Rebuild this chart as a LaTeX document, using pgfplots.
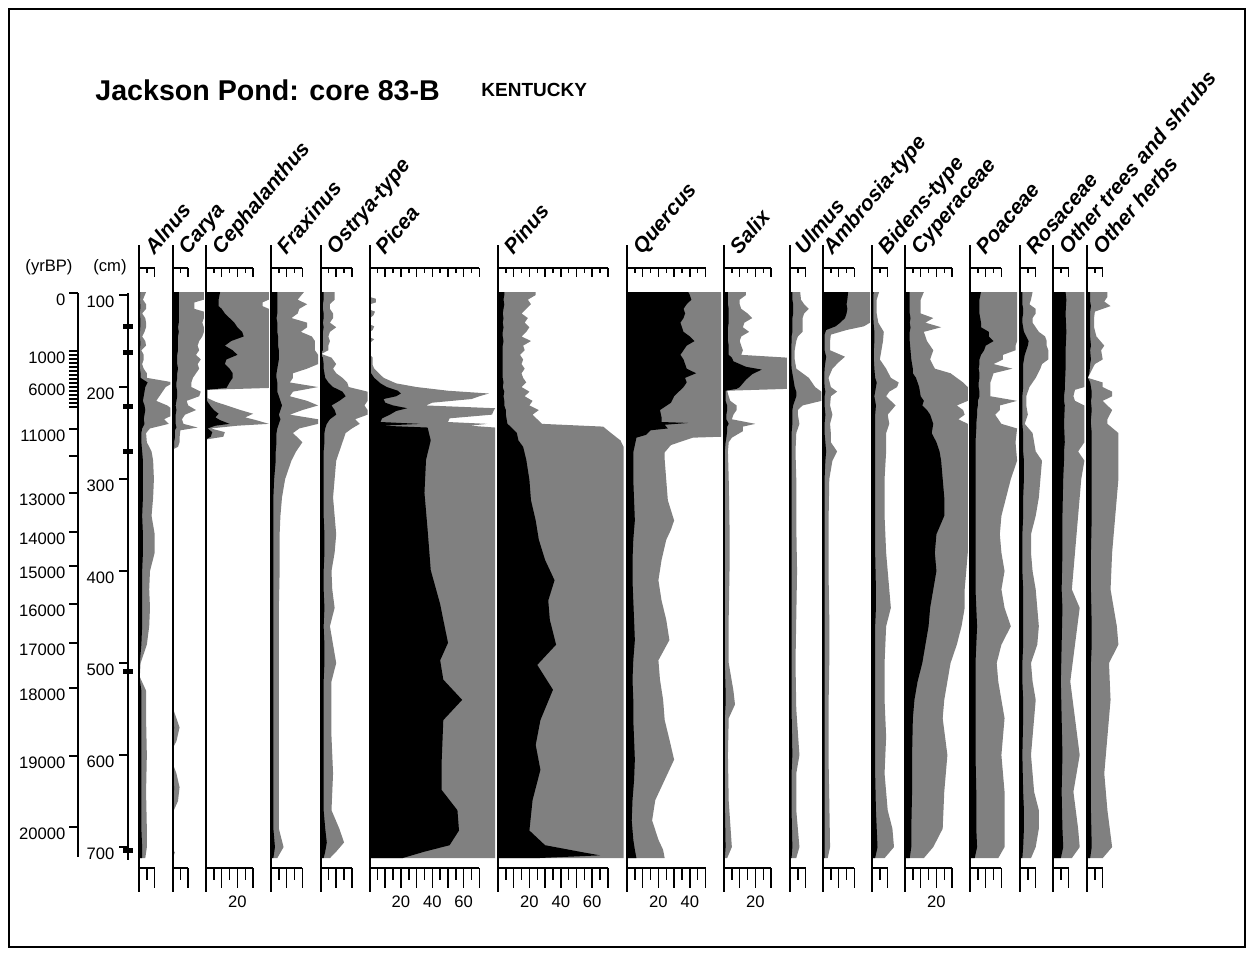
\documentclass[border=0pt]{standalone}
\usepackage{pgfplots}
\pgfplotsset{compat=1.18}
\usepackage{pgfplotstable}
\usepackage{fontspec}
\setmainfont{Liberation Sans}
\definecolor{gr}{RGB}{128,128,128}

% depth (cm), black = percent, g = grey exaggeration (clipped at panel edge)
\pgfplotstableread[row sep=\\]{d b g\\ 96.7 0 0\\ 96.7 0.8 4.5\\ 105 0.6 2.5\\ 110 0.8 4.5\\ 115 0.8 4.5\\ 120 0.5 2\\ 125 0.8 4\\ 130 0.8 4.5\\ 135 0.8 4.5\\ 140 0.6 3.5\\ 145 0.5 2\\ 150 0.8 4\\ 155 0.8 4.5\\ 160 0.5 1.5\\ 165 0.6 3\\ 170 0.6 3\\ 175 0.5 2\\ 180 0.6 3\\ 185 1 5\\ 190 1 5\\ 195 5.5 22\\ 200 4 17\\ 205 3.5 15\\ 210 3 13\\ 215 2.5 11\\ 220 3.5 18\\ 225 4 22\\ 230 3.5 22\\ 235 3 16\\ 240 3.5 19\\ 245 2 7\\ 250 1.5 4.5\\ 260 1.5 5\\ 270 2 8\\ 280 2.5 9\\ 300 2.5 9.5\\ 320 2.5 9\\ 340 2 8\\ 360 2.5 10\\ 380 2.5 10\\ 400 2 7\\ 420 2 6.5\\ 440 2 7\\ 460 2 6.5\\ 480 1.5 5\\ 500 0.5 1\\ 515 0.3 0.5\\ 530 1.5 4.5\\ 560 1.5 4.5\\ 600 1.5 5\\ 640 1.5 4.5\\ 680 1.5 5\\ 700 2 5\\ 712 2 4\\ 712 0 0\\}\tAln
\pgfplotstableread[row sep=\\]{d b g\\ 96.7 0 0\\ 96.7 4 20\\ 105 4 20\\ 108 4 14\\ 115 4 14\\ 118 4 20\\ 125 4 20\\ 130 4 19\\ 135 3.5 20\\ 140 4 20\\ 145 3.5 19\\ 150 3.5 17\\ 155 3.5 16\\ 160 3.5 17\\ 165 3 15\\ 170 3 18\\ 175 3 16\\ 180 3.5 17\\ 185 3 15\\ 190 3 13\\ 195 2.5 12\\ 200 2.5 12\\ 205 3 18\\ 210 3 17\\ 215 2.5 9\\ 220 2 10\\ 225 2.5 15\\ 230 2 8\\ 235 2 6\\ 240 2 7\\ 244 2.5 16\\ 247 1.5 5\\ 255 1.5 4.5\\ 260 1 4.5\\ 265 1 3.5\\ 268 0 0\\ 548 0 0\\ 560 0.5 2.5\\ 570 1 4.5\\ 585 0.5 2.5\\ 592 0 0.3\\ 610 0 0.3\\ 620 0.5 2.5\\ 635 1 4.5\\ 650 0.8 3.5\\ 662 0 0.3\\ 702 0 0\\ 706 0.3 1.5\\ 712 0 0\\}\tCar
\pgfplotstableread[row sep=\\]{d b g\\ 96.7 0 0\\ 96.7 9 40\\ 105 8 40\\ 108 8 36\\ 112 8 36\\ 115 10 40\\ 120 12 40\\ 125 15 40\\ 130 18 40\\ 135 20 40\\ 140 23 40\\ 145 24 40\\ 150 16 40\\ 155 12 40\\ 160 17 40\\ 165 20 40\\ 170 13 40\\ 175 12 40\\ 180 15 40\\ 185 17 40\\ 190 17 40\\ 195 15 40\\ 201 13 40\\ 203 0 1\\ 212 0 1\\ 216 1 6\\ 221 3 15\\ 225 5 22\\ 229 8 30\\ 233 6 25\\ 236 9 32\\ 240 15 40\\ 242 6 20\\ 245 1 3\\ 249 4 12\\ 254 3 11\\ 257 0 0\\ 712 0 0\\}\tCep
\pgfplotstableread[row sep=\\]{d b g\\ 96.7 0 0\\ 96.7 4 21\\ 105 4 17\\ 110 4 23\\ 115 4 18\\ 120 4 17\\ 125 3.5 13\\ 130 4 23\\ 135 4 23\\ 140 4 19\\ 145 4.5 26\\ 150 4.5 28\\ 155 4.5 28\\ 160 5 28\\ 165 5 30\\ 170 5 30\\ 175 4.5 30\\ 180 4 23\\ 185 3.5 14\\ 190 3.5 14\\ 195 4 12\\ 200 4 30\\ 205 4 14\\ 210 5 12\\ 215 6 23\\ 220 7 30\\ 225 6 20\\ 230 5 12\\ 235 6 30\\ 240 5 30\\ 245 4 18\\ 250 3.5 14\\ 260 3.5 20\\ 270 3 16\\ 280 3 13\\ 300 2 9\\ 320 1.5 7\\ 340 1.5 6\\ 360 1.5 5.5\\ 400 1.5 5.5\\ 440 1.5 5\\ 500 1.5 5\\ 560 1.5 5\\ 620 1.5 5\\ 680 1.5 5\\ 700 2.5 8\\ 712 1.5 4\\ 712 0 0\\}\tFra
\pgfplotstableread[row sep=\\]{d b g\\ 96.7 0 0\\ 96.7 2 9\\ 105 2 9\\ 110 1.5 6\\ 115 1.5 6\\ 120 2 8\\ 125 2 8\\ 130 1.5 6\\ 135 2 10\\ 140 1.5 6\\ 145 1.5 5\\ 150 1.5 6\\ 155 1.5 5\\ 160 1.5 5\\ 164 0 0.5\\ 168 1.5 7\\ 175 2 10\\ 180 2 8\\ 185 2.5 10\\ 190 3 14\\ 195 5 17\\ 200 8 18\\ 205 14 30\\ 210 16 30\\ 215 12 30\\ 220 7 28\\ 225 9 30\\ 230 10 30\\ 235 6 22\\ 240 4 25\\ 245 3 20\\ 250 2.5 16\\ 260 2.5 14\\ 270 2 12\\ 280 2 10\\ 300 2 9\\ 320 2 8\\ 340 2 9\\ 360 2.5 10\\ 380 2.5 9\\ 400 2 7\\ 420 2 7.5\\ 440 2.5 9\\ 460 2 6\\ 480 2.5 8\\ 500 2.5 10\\ 520 2 7\\ 540 2 7\\ 580 2 7\\ 620 2 8\\ 660 2 7\\ 680 3 12\\ 695 4 15\\ 705 3 10\\ 712 2 6\\ 712 0 0\\}\tOst
\pgfplotstableread[row sep=\\]{d b g\\ 96.7 0 0\\ 102 0 0\\ 104 0.5 4\\ 108 0.5 4\\ 110 0 0.3\\ 116 0 0.3\\ 118 0.5 3.5\\ 122 0.3 2.5\\ 125 0 0.3\\ 132 0 0.3\\ 134 0.5 3\\ 138 0.3 2\\ 140 0 0.3\\ 146 0 0.3\\ 148 0.5 3\\ 152 0 0.3\\ 165 0 0.3\\ 168 0.3 2\\ 176 0.3 2\\ 180 0.5 3\\ 185 1 6\\ 190 3 9\\ 196 7 17\\ 200 11 30\\ 204 18 50\\ 207 20 76\\ 210 17 70\\ 213 9 65\\ 217 10 40\\ 220 15 36\\ 223 24 80\\ 226 17 79\\ 230 13 78\\ 234 8 51\\ 238 7 50\\ 240 32 75\\ 242 8 64\\ 244 37 80\\ 258 39 80\\ 279 36 80\\ 315 35 80\\ 355 37 80\\ 399 39 80\\ 436 45 80\\ 453 47 80\\ 478 50 80\\ 497 45 80\\ 518 47 80\\ 540 59 80\\ 562 47 80\\ 605 46 80\\ 638 46 80\\ 660 56 80\\ 682 57 80\\ 698 51 80\\ 705 35 80\\ 712 21 80\\ 712 0 0\\}\tPic
\pgfplotstableread[row sep=\\]{d b g\\ 96.7 0 0\\ 96.7 4 24\\ 100 4 24\\ 105 3.5 19\\ 110 4 21\\ 115 3.5 18\\ 120 3 15\\ 125 3.5 19\\ 130 3 17\\ 135 3.5 20\\ 140 3 18\\ 145 3 15\\ 150 3.5 21\\ 155 3 16\\ 160 3 17\\ 165 3 14\\ 170 3 16\\ 175 3 15\\ 180 3 17\\ 185 3 15\\ 190 3 16\\ 195 3.5 18\\ 200 3 15\\ 205 4 20\\ 210 3.5 17\\ 215 4 22\\ 220 4 20\\ 225 5 26\\ 230 5 22\\ 235 5.5 25\\ 240 6 28\\ 243 8 67\\ 250 12 72\\ 258 13 78\\ 265 16 80\\ 279 18 80\\ 301 20 80\\ 323 21 80\\ 345 24 80\\ 366 26 80\\ 388 30 80\\ 410 36 80\\ 432 32 80\\ 453 33 80\\ 480 37 80\\ 502 25 80\\ 529 35 80\\ 562 27 80\\ 589 24 80\\ 616 27 80\\ 649 22 80\\ 682 20 80\\ 698 30 80\\ 706 55 80\\ 709 65 80\\ 712 25 80\\ 712 0 0\\}\tPin
\pgfplotstableread[row sep=\\]{d b g\\ 96.7 0 0\\ 96.7 39 60\\ 100 40 60\\ 105 41 60\\ 110 38 60\\ 115 36 60\\ 120 37 60\\ 125 36 60\\ 130 34 60\\ 135 35 60\\ 140 36 60\\ 145 40 60\\ 150 43 60\\ 155 38 60\\ 160 36 60\\ 165 34 60\\ 170 36 60\\ 175 37 60\\ 180 38 60\\ 185 44 60\\ 190 37 60\\ 195 38 60\\ 200 36 60\\ 205 33 60\\ 210 30 60\\ 217 28 60\\ 225 21 60\\ 233 22 60\\ 238 22 60\\ 239 39 60\\ 241 24 60\\ 245 26 60\\ 247 15 60\\ 252 12 60\\ 254 8 60\\ 255 6 42\\ 263 5 28\\ 271 4 24\\ 279 4 24\\ 301 4 25\\ 323 4.5 26\\ 345 5 30\\ 355 4.5 28\\ 366 4 25\\ 388 3.5 22\\ 410 3.5 20\\ 432 4 22\\ 453 4.5 25\\ 475 5 27\\ 497 4 20\\ 518 3.5 21\\ 540 4 23\\ 562 4 24\\ 583 4.5 27\\ 605 5 30\\ 627 4.5 24\\ 649 3.5 18\\ 671 3 16\\ 692 4 20\\ 703 5 23\\ 712 6 24\\ 712 0 0\\}\tQue
\pgfplotstableread[row sep=\\]{d b g\\ 96.7 0 0\\ 96.7 2.5 14\\ 100 2.5 14\\ 105 2.5 10\\ 110 2.5 10\\ 115 3 11\\ 120 3 15\\ 125 3 18\\ 130 3 13\\ 135 2.5 12\\ 140 2.5 16\\ 145 2.5 11\\ 150 2.5 10\\ 155 3 11\\ 160 3 12\\ 165 3 11\\ 168 5 40\\ 172 6 40\\ 178 14 40\\ 181 24 40\\ 186 18 40\\ 192 14 40\\ 200 10 40\\ 202 8 40\\ 204 1 2\\ 210 1 3\\ 215 1 4\\ 220 2 8\\ 225 2 8\\ 230 1.5 6\\ 235 1.5 5\\ 240 3 20\\ 243 2 12\\ 248 2 12\\ 255 1.5 5\\ 260 1 3\\ 270 0.5 2.5\\ 300 0.5 3\\ 350 0.5 3.5\\ 400 0.5 3.5\\ 450 0.5 3\\ 500 0.5 3\\ 530 1 6\\ 545 1 7\\ 560 0.5 3\\ 600 0.5 2.5\\ 650 0.5 3\\ 700 1 5\\ 712 0.5 2\\ 712 0 0\\}\tSal
\pgfplotstableread[row sep=\\]{d b g\\ 96.7 0 0\\ 96.7 1.5 6.5\\ 105 1.5 7\\ 110 2 9\\ 115 2 12\\ 120 2 9\\ 125 1.5 8\\ 130 1.5 8\\ 140 1.5 8\\ 145 1 5\\ 150 1 4\\ 160 0.8 3\\ 170 0.8 3\\ 180 1 4\\ 190 2 12\\ 200 3 16\\ 205 4 20\\ 210 4 20\\ 215 3 20\\ 220 2 8\\ 225 1.5 5\\ 230 1.5 5\\ 240 1.5 6\\ 250 1 4\\ 270 1 3.5\\ 300 1 4\\ 350 1 4\\ 400 1 4.5\\ 450 1 4\\ 500 1 3.5\\ 550 1 4\\ 600 1.5 6\\ 620 1 4\\ 660 1 4\\ 700 1.5 6\\ 712 1 4\\ 712 0 0\\}\tUlm
\pgfplotstableread[row sep=\\]{d b g\\ 96.7 0 0\\ 96.7 16 30\\ 105 15.5 30\\ 110 15 30\\ 115 15.5 30\\ 120 15 30\\ 125 14 30\\ 130 11 30\\ 134 8 26\\ 138 2 15\\ 143 1 5\\ 150 1 4.5\\ 160 1 4.5\\ 167 2 14\\ 173 1.5 10\\ 180 1 6\\ 190 0.8 3.5\\ 200 1 5\\ 205 1.5 9\\ 210 1 5\\ 220 1 4.5\\ 230 1.5 6\\ 240 1 4.5\\ 250 1 5\\ 260 1.5 5\\ 270 2 9\\ 280 1.5 6\\ 300 1 4\\ 350 1 3.5\\ 400 1 3.5\\ 450 1 4\\ 500 1 4\\ 550 1 3.5\\ 600 1 3.5\\ 650 1 4\\ 700 1 4.5\\ 712 1 3\\ 712 0 0\\}\tAmb
\pgfplotstableread[row sep=\\]{d b g\\ 96.7 0 0\\ 96.7 1 4.5\\ 105 0.8 3\\ 120 0.8 3\\ 130 1 4\\ 140 1.5 7.5\\ 150 1.5 7\\ 160 1.2 6\\ 170 1.2 5\\ 180 1.5 9\\ 190 2 12\\ 195 3 17\\ 200 2.5 16\\ 205 2 11\\ 210 1.5 9\\ 220 2.5 15\\ 230 2 10\\ 240 2 11\\ 250 2 9\\ 270 2 9\\ 300 2 8\\ 340 2 8\\ 380 2 9\\ 420 2.5 11\\ 440 2.5 12\\ 460 2 9\\ 500 2 8\\ 540 2 8\\ 580 2 9\\ 620 2 8\\ 660 2.5 10\\ 680 3 13\\ 700 3.5 14\\ 712 2 8\\ 712 0 0\\}\tBid
\pgfplotstableread[row sep=\\]{d b g\\ 96.7 0 0\\ 96.7 3 12\\ 105 3 10\\ 115 3 10\\ 120 3 10\\ 125 3.5 18\\ 130 3 13\\ 135 3.5 23\\ 140 3 12\\ 150 3 14\\ 160 3.5 18\\ 170 4 16\\ 180 5 19\\ 185 5 29\\ 190 7 33\\ 195 8 37\\ 200 9 40\\ 210 10 40\\ 215 12 40\\ 220 11 33\\ 225 14 37\\ 230 16 38\\ 235 17 34\\ 240 18 40\\ 250 17 40\\ 260 20 40\\ 270 22 40\\ 280 23 40\\ 300 24 40\\ 320 25 40\\ 340 25 40\\ 360 20 40\\ 380 19 40\\ 400 20 39\\ 420 18 38\\ 440 16 38\\ 460 15 36\\ 480 13 33\\ 500 11 29\\ 520 8 27\\ 540 6 25\\ 560 5 24\\ 600 4.5 27\\ 640 4.5 25\\ 680 4 24\\ 700 4 18\\ 712 3 12\\ 712 0 0\\}\tCyp
\pgfplotstableread[row sep=\\]{d b g\\ 96.7 0 0\\ 96.7 7 30\\ 105 6 30\\ 115 6 30\\ 120 6 30\\ 130 7 30\\ 135 7 30\\ 140 12 30\\ 145 12 30\\ 150 15 30\\ 155 10 29\\ 160 9 29\\ 165 7 21\\ 170 6 21\\ 175 6 15\\ 180 5.5 27\\ 185 6 15\\ 190 6 14\\ 195 5.5 13\\ 200 5.5 13\\ 205 6 13\\ 210 6 13\\ 215 5 30\\ 220 5 19\\ 225 4.5 19\\ 230 4.5 16\\ 240 4 20\\ 245 4 30\\ 260 3.5 29\\ 280 3.5 30\\ 300 3.5 26\\ 320 3.5 23\\ 340 3.5 20\\ 360 3.5 19\\ 380 3.5 20\\ 400 3.5 22\\ 420 3.5 20\\ 440 4 22\\ 460 4.5 26\\ 480 4 20\\ 500 3.5 17\\ 520 3.5 18\\ 540 3.5 20\\ 560 3.5 22\\ 600 3.5 20\\ 640 4 22\\ 680 4 22\\ 700 4.5 22\\ 712 3 18\\ 712 0 0\\}\tPoa
\pgfplotstableread[row sep=\\]{d b g\\ 96.7 0 0\\ 96.7 1.5 8\\ 105 1.5 7\\ 110 1.5 6\\ 115 2 10\\ 120 2 10\\ 125 1.5 8\\ 130 1.5 8\\ 140 2.5 12\\ 145 4 16\\ 150 5.5 17\\ 155 5 17\\ 160 4 18\\ 165 3 18\\ 170 2.5 18\\ 175 2 14\\ 180 2 13\\ 190 2 10\\ 195 2 8\\ 200 2 6\\ 210 1.5 4\\ 220 1.5 4\\ 230 1.5 5\\ 240 1.5 3\\ 250 2 8\\ 260 2 9\\ 270 2 10\\ 280 2.5 14\\ 300 2.5 13\\ 320 2 12\\ 340 2 10\\ 360 1.5 7\\ 380 1.5 7\\ 400 1.5 8\\ 420 2 10\\ 440 2 11\\ 460 2 12\\ 480 2 11\\ 500 1.5 7\\ 520 1.5 8\\ 540 2 10\\ 560 2 9\\ 600 1.5 7\\ 640 2 9\\ 660 2.5 12\\ 680 2.5 12\\ 700 2 10\\ 712 1.5 7\\ 712 0 0\\}\tRos
\pgfplotstableread[row sep=\\]{d b g\\ 96.7 0 0\\ 96.7 8 20\\ 105 8.5 20\\ 120 8 20\\ 140 8.5 20\\ 160 8 20\\ 180 8 20\\ 200 7.5 20\\ 203 7.5 14\\ 210 7 13\\ 215 7 14\\ 220 7.5 20\\ 240 7 20\\ 260 7.5 20\\ 270 7 16\\ 280 7 20\\ 300 6.5 18\\ 340 6 16\\ 380 6 14\\ 420 5.5 12\\ 440 6 17\\ 480 5.5 14\\ 520 5 11\\ 560 5.5 14\\ 600 6 17\\ 640 5.5 13\\ 680 6 16\\ 700 6.5 17\\ 712 5 12\\ 712 0 0\\}\tOts
\pgfplotstableread[row sep=\\]{d b g\\ 96.7 0 0\\ 96.7 2 13\\ 102 2 13\\ 107 2 11\\ 112 2.5 15\\ 118 2 5\\ 125 2 4.5\\ 135 2 4.5\\ 145 2 6\\ 155 2.5 11\\ 160 2 9\\ 170 2.5 10\\ 175 2 5\\ 185 1.5 2\\ 190 0.5 0.5\\ 195 2 10\\ 200 2.5 10\\ 205 3 16\\ 210 3 16\\ 215 2.5 10\\ 225 3 16\\ 235 2.5 13\\ 240 2.5 13\\ 250 3 20\\ 300 3 20\\ 340 3 18\\ 380 2.5 16\\ 420 2.5 15\\ 460 3 19\\ 480 3 20\\ 500 2.5 14\\ 540 2.5 15\\ 580 2.5 13\\ 620 2.5 11\\ 660 2.5 13\\ 700 3 16\\ 712 2 10\\ 712 0 0\\}\tOhe

\pgfplotsset{pan/.style={anchor=north west, scale only axis, hide axis,
  xmin=0, ymin=96.7, ymax=712, y dir=reverse, x=0.785pt, y=0.46pt}}

% one taxon: left edge (px), panel width (%), table
\newcommand{\panel}[3]{%
  \begin{axis}[pan, at={({#1*0.5pt},-146pt)}, xmax=#2]
    \addplot[fill=gr, draw=none] table[x=g, y=d] {#3};
    \addplot[fill=black, draw=none] table[x=b, y=d] {#3};
  \end{axis}}

% axis line and the two tick scales of one taxon
\newcommand{\scl}[2]{%
  \draw[line width=1pt] (#1,245) -- (#1,892);
  \draw (#1,268) -- ({#1+#2*1.57},268);
  \draw (#1,868) -- ({#1+#2*1.57},868);
  \foreach \v in {5,10,...,#2}{%
    \pgfmathtruncatemacro\m{mod(\v,10)}%
    \ifnum\m=0 \def\tl{9}\def\bl{20}\else\def\tl{5}\def\bl{12}\fi
    \draw ({#1+\v*1.57},268) -- ++(0,\tl);
    \draw ({#1+\v*1.57},868) -- ++(0,\bl);
  }}

\newcommand{\tax}[2]{\node[rotate=50, anchor=base west, inner sep=0,
  font=\fontsize{10.5}{12}\selectfont\bfseries\itshape] at (#1,256) {#2};}

\begin{document}
\begin{tikzpicture}
\begin{scope}[x=0.5pt, y=-0.5pt]
  \path (0,0) rectangle (1253,955);
  \draw[line width=1pt] (9,9) rectangle (1245,947);
  \node[anchor=base west, inner sep=0, font=\fontsize{14.3}{17}\selectfont\bfseries] at (95,100) {Jackson Pond: core 83-B};
  \node[anchor=base west, inner sep=0, font=\fontsize{9.5}{11}\selectfont\bfseries] at (481,96) {KENTUCKY};
\end{scope}

\panel{139}{20}{\tAln}
\panel{172.5}{20}{\tCar}
\panel{206}{40}{\tCep}
\panel{271}{30}{\tFra}
\panel{320.5}{30}{\tOst}
\panel{369.5}{80}{\tPic}
\panel{498}{80}{\tPin}
\panel{627}{60}{\tQue}
\panel{724}{40}{\tSal}
\panel{790}{20}{\tUlm}
\panel{823}{30}{\tAmb}
\panel{872}{20}{\tBid}
\panel{905}{40}{\tCyp}
\panel{970}{30}{\tPoa}
\panel{1020}{20}{\tRos}
\panel{1053}{20}{\tOts}
\panel{1087}{20}{\tOhe}

\begin{scope}[x=0.5pt, y=-0.5pt, line width=0.75pt, font=\fontsize{8.3}{10}\selectfont]
  \scl{139}{10} \scl{172.5}{10} \scl{206}{30} \scl{271}{20} \scl{320.5}{20}
  \scl{369.5}{70} \scl{498}{70} \scl{627}{50} \scl{724}{30} \scl{790}{10}
  \scl{823}{20} \scl{872}{10} \scl{905}{30} \scl{970}{20} \scl{1020}{10}
  \scl{1053}{10} \scl{1087}{10}

  \tax{154}{Alnus} \tax{187.5}{Carya} \tax{221}{Cephalanthus}
  \tax{286}{Fraxinus} \tax{335.5}{Ostrya-type} \tax{384.5}{Picea}
  \tax{513}{Pinus} \tax{642}{Quercus} \tax{739}{Salix} \tax{804}{Ulmus}
  \tax{832}{Ambrosia-type} \tax{887}{Bidens-type} \tax{920}{Cyperaceae}
  \tax{985}{Poaceae} \tax{1035}{Rosaceae} \tax{1068}{Other trees and shrubs}
  \tax{1102}{Other herbs}

  \foreach \x/\l in {237.4/20, 400.9/20, 432.3/40, 463.7/60, 529.4/20, 560.8/40,
    592.2/60, 658.4/20, 689.8/40, 755.4/20, 936.4/20}
    \node at (\x,902) {\l};

  % age scale
  \node at (49,267) {(yrBP)};
  \node at (110,267) {(cm)};
  \draw (78,293) -- (78,857);
  \foreach \t in {293,351,355,359,363,367,371,375,379,383,387,391,395,399,403,407,
    429,456,493,532,566,604,643,688,756,827}
    \draw (69,\t) -- (78,\t);
  \foreach \t/\l in {293/0, 351/1000, 383/6000, 429/11000, 493/13000, 532/14000,
    566/15000, 604/16000, 643/17000, 688/18000, 756/19000, 827/20000}
    \node[anchor=north east, inner sep=0] at (66,\t+0.5) {\l};

  % depth scale
  \draw (128,293) -- (128,860);
  \foreach \t/\l in {295/100, 387/200, 479/300, 571/400, 663/500, 755/600, 847/700}{
    \draw (119,\t) -- (128,\t);
    \node[anchor=north east, inner sep=0] at (115,\t+0.5) {\l};}
  \foreach \t in {326,352,406,451,671,850}
    \fill (123,\t-2.5) rectangle (133,\t+2.5);
\end{scope}
\end{tikzpicture}
\end{document}
